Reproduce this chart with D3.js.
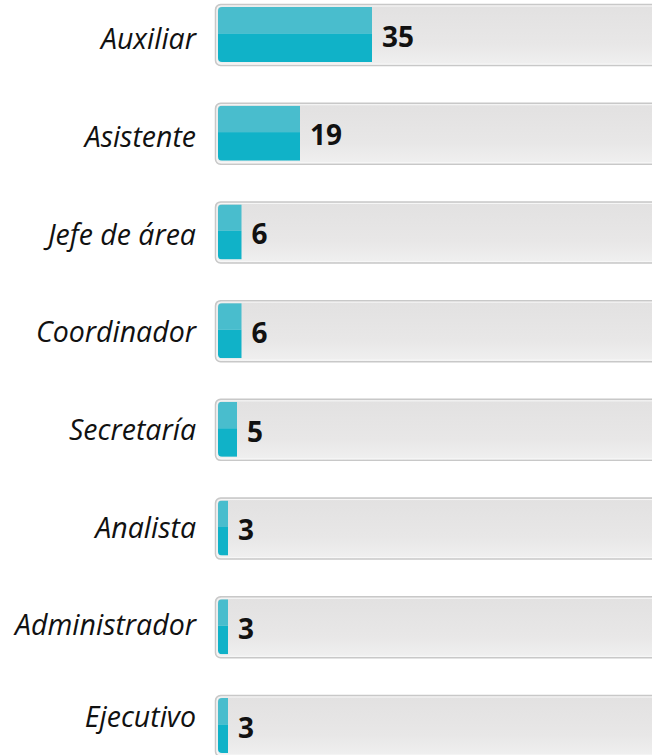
<!DOCTYPE html>
<html>
<head>
<meta charset="utf-8">
<script src="https://cdn.jsdelivr.net/npm/d3@7"></script>
<style>
  html, body { margin: 0; padding: 0; background: #ffffff; }
  svg { display: block; }
</style>
</head>
<body>
<svg id="chart" width="652" height="755"></svg>
<script>
const categories = ["Auxiliar", "Asistente", "Jefe de área", "Coordinador", "Secretaría", "Analista", "Administrador", "Ejecutivo"];
const values = [35, 19, 6, 6, 5, 3, 3, 3];
const maxValue = 100;

(function () {
const W = 652, H = 755;
const svg = d3.select("#chart");
const defs = svg.append("defs");

const trackGrad = defs.append("linearGradient").attr("id", "trackGrad")
  .attr("x1", 0).attr("y1", 0).attr("x2", 0).attr("y2", 1);
trackGrad.append("stop").attr("offset", "0%").attr("stop-color", "#e2e1e1");
trackGrad.append("stop").attr("offset", "65%").attr("stop-color", "#e8e7e7");
trackGrad.append("stop").attr("offset", "100%").attr("stop-color", "#f0f0f0");

// track rows
const y = d3.scaleBand().domain(categories).range([4, 757]).paddingInner(0.372).paddingOuter(0);
// label rows (label centers, kept inside the visible area)
const yLabel = d3.scalePoint().domain(categories).range([39.5, 723]);
const x = d3.scaleLinear().domain([0, maxValue]).range([214.5, 664.5]);

const bh = y.bandwidth();
const data = categories.map((c, i) => ({c, v: values[i], i}));

const rows = svg.selectAll("g.row").data(data)
  .join("g").attr("class", "row")
  .attr("transform", d => `translate(0,${y(d.c)})`);

// track
rows.append("rect")
  .attr("x", 215.5).attr("y", 0.5)
  .attr("width", 500).attr("height", bh - 1)
  .attr("rx", 5).attr("ry", 5)
  .attr("fill", "url(#trackGrad)")
  .attr("stroke", "#c8c8c8").attr("stroke-width", 1.5);
rows.append("rect")
  .attr("x", 217).attr("y", 2)
  .attr("width", 500).attr("height", bh - 4)
  .attr("rx", 4).attr("ry", 4)
  .attr("fill", "none")
  .attr("stroke", "#f8f8f8").attr("stroke-width", 1);

// bars, clipped to the inner track area
const insetTop = 3, insetBottom = 4;
data.forEach(d => {
  defs.append("clipPath").attr("id", "clip" + d.i)
    .append("rect").attr("x", 218).attr("y", insetTop)
    .attr("width", 600).attr("height", bh - insetTop - insetBottom)
    .attr("rx", 4).attr("ry", 4);
});
const barG = rows.append("g").attr("clip-path", d => `url(#clip${d.i})`);
const barTop = insetTop, barBottom = bh - insetBottom;
const barMid = barTop + (barBottom - barTop) * 0.48;
barG.append("rect")
  .attr("x", x(0)).attr("y", barTop)
  .attr("width", d => x(d.v) - x(0)).attr("height", barMid - barTop)
  .attr("fill", "#49bdcd");
barG.append("rect")
  .attr("x", x(0)).attr("y", barMid)
  .attr("width", d => x(d.v) - x(0)).attr("height", barBottom - barMid)
  .attr("fill", "#10b2c8");

// value labels
rows.append("text")
  .attr("x", d => x(d.v) + 10)
  .attr("y", bh / 2 + 2)
  .attr("dy", "0.35em")
  .attr("font-family", "'Open Sans', sans-serif")
  .attr("font-weight", "bold")
  .attr("font-size", 28)
  .attr("fill", "#111")
  .text(d => d.v);

// category labels
svg.selectAll("text.cat").data(data).join("text")
  .attr("class", "cat")
  .attr("x", 196)
  .attr("y", d => Math.min(yLabel(d.c), H - 38))
  .attr("dy", "0.35em")
  .attr("text-anchor", "end")
  .attr("font-family", "'Open Sans', sans-serif")
  .attr("font-style", "italic")
  .attr("font-size", 28.5)
  .attr("fill", "#111")
  .text(d => d.c);
})();
</script>
</body>
</html>
